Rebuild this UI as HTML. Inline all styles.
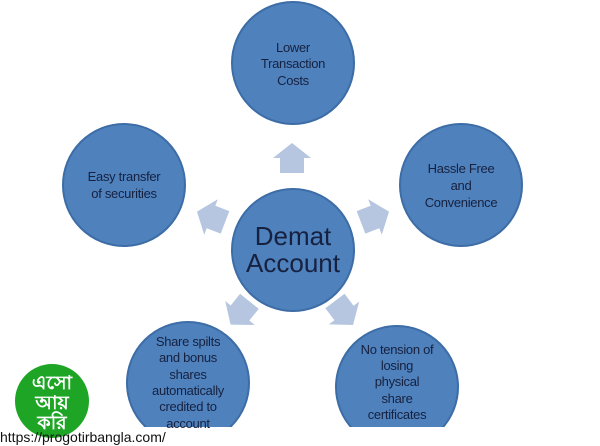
<!DOCTYPE html>
<html><head><style>
html,body{margin:0;padding:0;background:#fff;}
svg{display:block;}
text{font-family:"Liberation Sans",sans-serif;fill:#16213f;}
</style></head><body>
<svg width="600" height="446" viewBox="0 0 600 446" xmlns="http://www.w3.org/2000/svg">
<rect width="600" height="446" fill="#fff"/>
<defs>
<polygon id="ar" points="-12,15 12,15 12,0 19,0 0,-15 -19,0 -12,0" fill="#b6c6e0"/>
</defs>
<g fill="#4f81bd" stroke="#3d6da6" stroke-width="2">
<circle cx="293" cy="63" r="61"/>
<circle cx="124" cy="185" r="61"/>
<circle cx="461" cy="185" r="61"/>
<circle cx="293" cy="250" r="61"/>
<circle cx="188" cy="383" r="61"/>
<circle cx="397" cy="387" r="61"/>
</g>
<rect x="0" y="427" width="600" height="19" fill="#fff"/>
<use href="#ar" transform="translate(292,158)"/>
<use href="#ar" transform="translate(211,217) rotate(-69)"/>
<use href="#ar" transform="translate(375,217) rotate(69)"/>
<use href="#ar" transform="translate(240,313) rotate(-141)"/>
<use href="#ar" transform="translate(344,313) rotate(143)"/>
<g font-size="13" text-anchor="middle" letter-spacing="-0.3">
<text x="293" y="52">Lower</text>
<text x="293" y="68">Transaction</text>
<text x="293" y="85">Costs</text>
<text x="124" y="181">Easy transfer</text>
<text x="124" y="198">of securities</text>
<text x="461" y="173">Hassle Free</text>
<text x="461" y="190">and</text>
<text x="461" y="207">Convenience</text>
<text x="188" y="346">Share spilts</text>
<text x="188" y="362">and bonus</text>
<text x="188" y="379">shares</text>
<text x="188" y="395">automatically</text>
<text x="188" y="411">credited to</text>
<text x="188" y="428">account</text>
<text x="397" y="354">No tension of</text>
<text x="397" y="370">losing</text>
<text x="397" y="386">physical</text>
<text x="397" y="403">share</text>
<text x="397" y="419">certificates</text>
</g>
<rect x="100" y="429" width="500" height="17" fill="#fff"/>
<g font-size="26" text-anchor="middle">
<text x="293" y="245">Demat</text>
<text x="293" y="272">Account</text>
</g>
<circle cx="52" cy="401" r="37" fill="#1ea526"/>
<g font-size="19" text-anchor="middle" style="font-weight:bold">
<text x="52" y="389" style="fill:#fff">এসো</text>
<text x="52" y="409" style="fill:#fff">আয়</text>
<text x="52" y="429" style="fill:#fff">করি</text>
</g>
<text x="0" y="442" font-size="14" style="fill:#111">https://progotirbangla.com/</text>
</svg>
</body></html>
